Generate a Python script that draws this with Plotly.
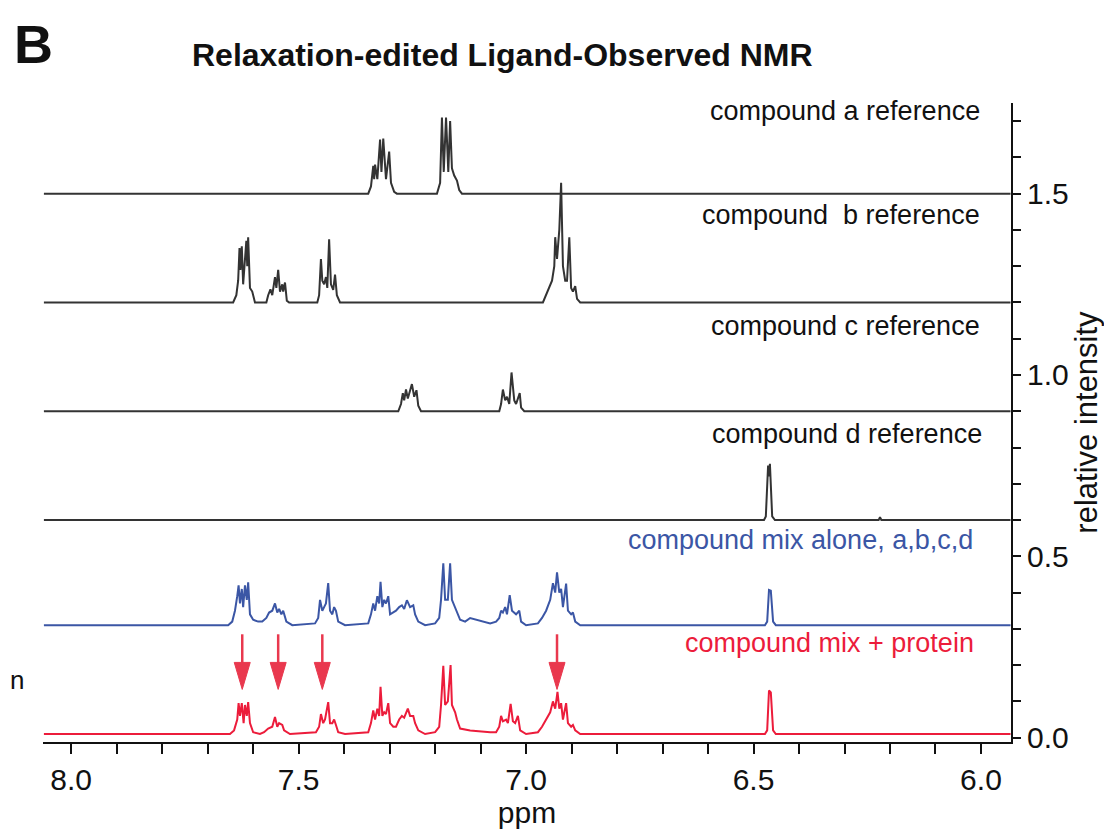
import plotly.graph_objects as go

# ---------------- data (ppm, relative intensity above each trace's own baseline) -------------
a_ppm = [8.06, 7.347, 7.341, 7.336, 7.334, 7.332, 7.327, 7.321, 7.318, 7.314, 7.308, 7.301, 7.297, 7.290, 7.284,
         7.196, 7.189, 7.185, 7.181, 7.176, 7.171, 7.167, 7.163, 7.158, 7.152, 7.147, 7.141, 5.935]
a_int = [0, 0, 0.02, 0.077, 0.04, 0.08, 0.04, 0.149, 0.06, 0.152, 0.04, 0.116, 0.03, 0.005, 0,
         0, 0.03, 0.21, 0.06, 0.21, 0.06, 0.20, 0.07, 0.05, 0.036, 0.01, 0, 0]

b_ppm = [8.06, 7.644, 7.637, 7.633, 7.630, 7.628, 7.625, 7.622, 7.615, 7.613, 7.611, 7.607, 7.602, 7.596,
         7.571, 7.567, 7.562, 7.558, 7.552, 7.549, 7.545, 7.541, 7.536, 7.534, 7.530, 7.526, 7.521,
         7.459, 7.455, 7.451, 7.448, 7.444, 7.440, 7.437, 7.433, 7.429, 7.424, 7.420, 7.416, 7.409,
         6.963, 6.956, 6.949, 6.943, 6.938, 6.936, 6.932, 6.927, 6.923, 6.919, 6.914, 6.910, 6.905,
         6.901, 6.897, 6.892, 6.888, 6.881, 5.935]
b_int = [0, 0, 0.02, 0.06, 0.15, 0.09, 0.155, 0.05, 0.17, 0.10, 0.18, 0.04, 0.03, 0,
         0, 0.02, 0.036, 0.02, 0.07, 0.04, 0.09, 0.03, 0.05, 0.03, 0.055, 0.005, 0,
         0, 0.02, 0.12, 0.06, 0.05, 0.07, 0.04, 0.174, 0.05, 0.035, 0.077, 0.02, 0,
         0, 0.02, 0.04, 0.06, 0.10, 0.18, 0.12, 0.20, 0.33, 0.10, 0.06, 0.06, 0.18,
         0.04, 0.03, 0.045, 0.01, 0, 0]

c_ppm = [8.06, 7.281, 7.275, 7.271, 7.268, 7.264, 7.260, 7.255, 7.251, 7.246, 7.241, 7.237, 7.231,
         7.059, 7.055, 7.051, 7.046, 7.042, 7.037, 7.032, 7.026, 7.022, 7.014, 7.011, 7.004, 5.935]
c_int = [0, 0, 0.02, 0.05, 0.03, 0.06, 0.035, 0.06, 0.075, 0.04, 0.058, 0.015, 0,
         0, 0.02, 0.06, 0.03, 0.04, 0.02, 0.107, 0.03, 0.02, 0.05, 0.01, 0, 0]

d_ppm = [8.06, 6.477, 6.473, 6.468, 6.466, 6.464, 6.459, 6.453, 6.225, 6.222, 6.219, 5.935]
d_int = [0, 0, 0.01, 0.15, 0.12, 0.155, 0.01, 0, 0, 0.008, 0, 0]

mix_ppm = [8.06, 7.655, 7.646, 7.640, 7.635, 7.632, 7.629, 7.625, 7.622, 7.618, 7.614, 7.611, 7.607, 7.600, 7.589,
           7.580, 7.571, 7.565, 7.558, 7.552, 7.547, 7.543, 7.538, 7.534, 7.527, 7.514,
           7.464, 7.457, 7.453, 7.448, 7.444, 7.440, 7.435, 7.431, 7.426, 7.422, 7.418, 7.413, 7.398,
           7.347, 7.341, 7.336, 7.332, 7.327, 7.323, 7.320, 7.316, 7.312, 7.308, 7.303, 7.299, 7.292,
           7.286, 7.279, 7.273, 7.268, 7.262, 7.255, 7.248, 7.244, 7.237, 7.222,
           7.200, 7.191, 7.187, 7.182, 7.178, 7.172, 7.167, 7.163, 7.156, 7.152, 7.145, 7.134, 7.123, 7.079,
           7.066, 7.059, 7.055, 7.051, 7.046, 7.042, 7.036, 7.031, 7.026, 7.022, 7.015, 7.011, 7.000,
           6.974, 6.965, 6.956, 6.947, 6.941, 6.936, 6.932, 6.927, 6.923, 6.919, 6.912, 6.908, 6.901,
           6.897, 6.892, 6.881,
           6.475, 6.470, 6.466, 6.462, 6.457, 6.451, 5.935]
mix_int = [0, 0, 0.01, 0.04, 0.08, 0.11, 0.06, 0.10, 0.05, 0.11, 0.07, 0.118, 0.03, 0.015, 0.01,
           0.01, 0.02, 0.035, 0.04, 0.06, 0.035, 0.045, 0.03, 0.04, 0.01, 0,
           0.005, 0.02, 0.07, 0.04, 0.05, 0.06, 0.116, 0.04, 0.03, 0.05, 0.04, 0.01, 0,
           0.005, 0.03, 0.06, 0.04, 0.08, 0.06, 0.12, 0.05, 0.07, 0.06, 0.08, 0.03, 0.035,
           0.04, 0.05, 0.055, 0.045, 0.069, 0.05, 0.055, 0.03, 0.01, 0,
           0.005, 0.02, 0.07, 0.171, 0.07, 0.07, 0.171, 0.07, 0.05, 0.04, 0.015, 0.01, 0.02, 0.005,
           0.01, 0.02, 0.04, 0.035, 0.05, 0.03, 0.083, 0.04, 0.035, 0.03, 0.04, 0.01, 0,
           0.005, 0.02, 0.04, 0.07, 0.116, 0.09, 0.146, 0.09, 0.10, 0.05, 0.115, 0.04, 0.03,
           0.035, 0.01, 0,
           0, 0.01, 0.097, 0.095, 0.01, 0, 0]

prot_ppm = [8.06, 7.651, 7.642, 7.635, 7.632, 7.629, 7.625, 7.621, 7.618, 7.614, 7.611, 7.607, 7.600, 7.585,
            7.576, 7.567, 7.558, 7.552, 7.547, 7.543, 7.536, 7.532, 7.519,
            7.462, 7.455, 7.451, 7.446, 7.442, 7.435, 7.431, 7.426, 7.422, 7.418, 7.413, 7.398,
            7.347, 7.341, 7.336, 7.332, 7.327, 7.323, 7.320, 7.316, 7.312, 7.308, 7.303, 7.299, 7.292,
            7.286, 7.279, 7.273, 7.268, 7.260, 7.255, 7.248, 7.244, 7.237, 7.222,
            7.200, 7.191, 7.187, 7.182, 7.178, 7.172, 7.166, 7.163, 7.156, 7.152, 7.145, 7.123, 7.079,
            7.066, 7.059, 7.055, 7.051, 7.044, 7.040, 7.034, 7.029, 7.024, 7.018, 7.013, 7.000,
            6.974, 6.965, 6.956, 6.947, 6.941, 6.936, 6.931, 6.927, 6.923, 6.919, 6.912, 6.908, 6.901,
            6.897, 6.892, 6.881,
            6.475, 6.470, 6.466, 6.462, 6.457, 6.451, 5.935]
prot_int = [0, 0, 0.01, 0.04, 0.085, 0.05, 0.085, 0.03, 0.08, 0.05, 0.088, 0.03, 0.005, 0,
            0.005, 0.015, 0.02, 0.047, 0.02, 0.03, 0.025, 0.01, 0,
            0.005, 0.02, 0.055, 0.03, 0.04, 0.088, 0.03, 0.03, 0.04, 0.025, 0.005, 0,
            0.005, 0.03, 0.065, 0.04, 0.07, 0.05, 0.13, 0.05, 0.06, 0.055, 0.085, 0.03, 0.02,
            0.02, 0.04, 0.05, 0.045, 0.07, 0.05, 0.05, 0.03, 0.01, 0,
            0.005, 0.02, 0.08, 0.188, 0.08, 0.09, 0.19, 0.08, 0.06, 0.04, 0.015, 0.01, 0.005,
            0.005, 0.02, 0.05, 0.035, 0.04, 0.03, 0.083, 0.035, 0.03, 0.05, 0.01, 0,
            0.005, 0.02, 0.04, 0.06, 0.09, 0.07, 0.116, 0.07, 0.085, 0.04, 0.085, 0.03, 0.02,
            0.025, 0.01, 0,
            0, 0.01, 0.12, 0.115, 0.01, 0, 0]

trace_names = ["compound a reference", "compound  b reference", "compound c reference",
               "compound d reference", "compound mix alone, a,b,c,d", "compound mix + protein"]
trace_offsets = [1.5, 1.2, 0.9, 0.6, 0.31, 0.01]
arrow_ppm = [7.624, 7.545, 7.448, 6.932]

# ---------------- styling ----------------
GRAY = "#333333"
BLUE = "#3b56a5"
RED = "#ec1c3b"
ARROW = "#e9384e"
colors = [GRAY, GRAY, GRAY, GRAY, BLUE, RED]
FONT = "Liberation Sans, Arial, Helvetica, sans-serif"

# page body has an 8px margin: figure is 8px smaller so it fits the 1112x829 window
W, H = 1104, 821
ML, MR, MT, MB = 35, 101, 95, 87
PW, PH = W - ML - MR, H - MT - MB

series = [(a_ppm, a_int), (b_ppm, b_int), (c_ppm, c_int), (d_ppm, d_int),
          (mix_ppm, mix_int), (prot_ppm, prot_int)]

fig = go.Figure()
for (xs, ys), off, col, name in zip(series, trace_offsets, colors, trace_names):
    fig.add_trace(go.Scatter(x=xs, y=[v + off for v in ys], mode="lines",
                             line=dict(color=col, width=2), name=name,
                             showlegend=False, hoverinfo="skip"))

# labels for each trace
label_y = [1.727, 1.442, 1.135, 0.837, 0.544, 0.260]
label_x = [5.998, 5.998, 5.998, 5.993, 6.013, 6.011]
for t, lx, ly, col in zip(trace_names, label_x, label_y, colors):
    fig.add_annotation(x=lx, y=ly, xref="x", yref="y", text=t, showarrow=False,
                       xanchor="right", yanchor="middle",
                       font=dict(family=FONT, size=27, color="#111111" if col == GRAY else col))

# arrows (shaft + triangular head) on mix + protein trace
PX_X = (8.062 - 5.934) / PW   # ppm per pixel
PX_Y = (1.75 + 0.012) / PH    # intensity per pixel
tip_y, tail_y = 0.133, 0.285
head_len, head_half = 27 * PX_Y, 8 * PX_X
for p in arrow_ppm:
    fig.add_shape(type="line", x0=p, x1=p, y0=tail_y, y1=tip_y + head_len * 0.9, xref="x", yref="y",
                  line=dict(color=ARROW, width=2.5))
    fig.add_shape(type="path", xref="x", yref="y",
                  path=f"M {p - head_half},{tip_y + head_len} L {p + head_half},{tip_y + head_len} L {p},{tip_y} Z",
                  fillcolor=ARROW, line=dict(color=ARROW, width=1))

# title, panel letter, clipped neighbour text (positions in reference-page pixels)
def px(xp):
    return (xp - 8 - ML) / PW

def py(yp):
    return 1 - (yp - 8 - MT) / PH

fig.add_annotation(x=px(502), y=py(55), xref="paper", yref="paper",
                   text="<b>Relaxation-edited Ligand-Observed NMR</b>", showarrow=False,
                   xanchor="center", yanchor="middle", font=dict(family=FONT, size=32, color="#111111"))
fig.add_annotation(x=px(12), y=py(44), xref="paper", yref="paper",
                   text="<b>B</b>", showarrow=False, xanchor="left", yanchor="middle",
                   font=dict(family=FONT, size=54, color="#111111"))
fig.add_annotation(x=px(8), y=py(680), xref="paper", yref="paper",
                   text="n", showarrow=False, xanchor="left", yanchor="middle",
                   font=dict(family=FONT, size=26, color="#111111"))

fig.update_layout(
    width=W, height=H,
    margin=dict(l=ML, r=MR, t=MT, b=MB, autoexpand=False),
    paper_bgcolor="white", plot_bgcolor="white",
    font=dict(family=FONT, color="#111111"),
    xaxis=dict(range=[8.062, 5.934], showline=True, linecolor="#111111", linewidth=2,
               ticks="outside", ticklen=10, tickwidth=2, tickcolor="#111111",
               tick0=6.0, dtick=0.5, tickformat=".1f",
               minor=dict(ticks="outside", dtick=0.1, ticklen=10, tickwidth=2, tickcolor="#111111"),
               showgrid=False, zeroline=False, mirror=False,
               tickfont=dict(size=30, family=FONT),
               title=dict(text="ppm", font=dict(size=30, family=FONT), standoff=8)),
    yaxis=dict(range=[-0.012, 1.75], side="right", showline=True, linecolor="#111111", linewidth=2,
               ticks="outside", ticklen=8, tickwidth=2, tickcolor="#111111",
               tick0=0, dtick=0.5, tickformat=".1f",
               minor=dict(ticks="outside", dtick=0.1, ticklen=8, tickwidth=2, tickcolor="#111111"),
               showgrid=False, zeroline=False,
               tickfont=dict(size=30, family=FONT),
               title=dict(text="relative intensity", font=dict(size=31, family=FONT), standoff=0)),
)

fig.write_html("out.html")
